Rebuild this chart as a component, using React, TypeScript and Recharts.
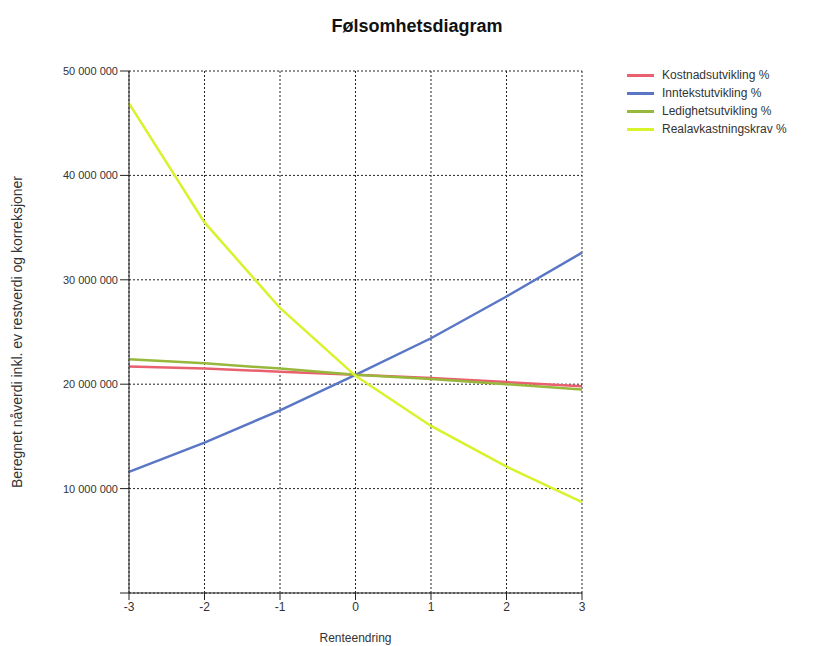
import { CartesianGrid, Label, Line, LineChart, XAxis, YAxis } from "recharts";

const renteendring = [-3, -2, -1, 0, 1, 2, 3];
const kostnad = [21.7, 21.5, 21.2, 20.9, 20.6, 20.2, 19.8];
const inntekt = [11.6, 14.4, 17.5, 20.9, 24.4, 28.4, 32.6];
const ledighet = [22.4, 22.0, 21.5, 20.9, 20.5, 20.0, 19.5];
const realavkastning = [46.9, 35.5, 27.3, 20.8, 16.0, 12.1, 8.7];

const yTicks = [0, 10000000, 20000000, 30000000, 40000000, 50000000];

const series = [
  { key: "kostnad", name: "Kostnadsutvikling %", color: "#e9606e" },
  { key: "inntekt", name: "Inntekstutvikling %", color: "#5a76c6" },
  { key: "ledighet", name: "Ledighetsutvikling %", color: "#98b83c" },
  { key: "realavkastning", name: "Realavkastningskrav %", color: "#d8f22c" },
];

const data = renteendring.map((x, i) => ({
  x,
  kostnad: kostnad[i] * 1e6,
  inntekt: inntekt[i] * 1e6,
  ledighet: ledighet[i] * 1e6,
  realavkastning: realavkastning[i] * 1e6,
}));

const fmt = (v: number) =>
  v === 0 ? "" : Math.round(v).toString().replace(/\B(?=(\d{3})+(?!\d))/g, " ");

const font = "'Liberation Sans', Arial, sans-serif";

export default function App() {
  return (
    <div
      style={{
        position: "absolute",
        left: 0,
        top: 0,
        width: 814,
        height: 646,
        background: "#fff",
        fontFamily: font,
      }}
    >
      <div
        style={{
          position: "absolute",
          top: 16,
          left: 0,
          width: 834,
          textAlign: "center",
          fontSize: 18,
          fontWeight: "bold",
          color: "#111",
        }}
      >
        Følsomhetsdiagram
      </div>
      <div style={{ position: "absolute", left: 627, top: 66 }}>
        {series.map((s) => (
          <div
            key={s.key}
            style={{ display: "flex", alignItems: "center", height: 18, fontSize: 12, color: "#333" }}
          >
            <span
              style={{ display: "inline-block", width: 27, height: 3, background: s.color, marginRight: 8 }}
            />
            {s.name}
          </div>
        ))}
      </div>
      <LineChart
        width={814}
        height={646}
        data={data}
        margin={{ top: 71, right: 232, bottom: 0, left: 0 }}
        style={{ fontFamily: font }}
      >
        <CartesianGrid stroke="#222" strokeDasharray="2 2" strokeWidth={1} />
        <XAxis
          dataKey="x"
          type="number"
          domain={[-3, 3]}
          ticks={renteendring}
          axisLine={{ stroke: "#222" }}
          tickLine={{ stroke: "#222" }}
          tickSize={7}
          tick={{ fill: "#333", fontSize: 12 }}
          height={53}
        >
          <Label value="Renteendring" position="insideBottom" offset={0} dy={-4} fill="#333" fontSize={12} />
        </XAxis>
        <YAxis
          type="number"
          domain={[0, 50000000]}
          ticks={yTicks}
          tickFormatter={fmt}
          axisLine={{ stroke: "#222" }}
          tickLine={{ stroke: "#222" }}
          tickSize={9}
          tick={{ fill: "#333", fontSize: 11 }}
          width={129}
        >
          <Label
            value="Beregnet nåverdi inkl. ev restverdi og korreksjoner"
            angle={-90}
            position="insideLeft"
            offset={17}
            fill="#333"
            fontSize={14}
            style={{ textAnchor: "middle" }}
          />
        </YAxis>
        {series.map((s) => (
          <Line
            key={s.key}
            dataKey={s.key}
            name={s.name}
            stroke={s.color}
            strokeWidth={2.5}
            dot={false}
            isAnimationActive={false}
          />
        ))}
      </LineChart>
    </div>
  );
}
